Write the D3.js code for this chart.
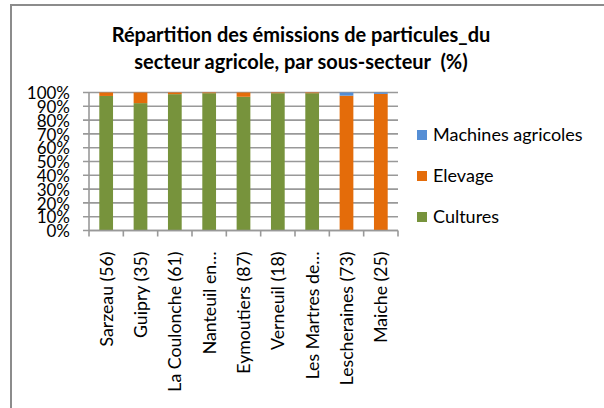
<!DOCTYPE html>
<html>
<head>
<meta charset="utf-8">
<script src="https://cdn.jsdelivr.net/npm/d3@7"></script>
<style>
  body { margin: 0; background: #fff; }
  .chart text { font-family: Lato, "Open Sans", sans-serif; fill: #000; }
</style>
</head>
<body>
<svg class="chart" width="604" height="408"></svg>
<script>
// data
var categories = ["Sarzeau (56)", "Guipry (35)", "La Coulonche (61)", "Nanteuil en…",
    "Eymoutiers (87)", "Verneuil (18)", "Les Martres de…", "Lescheraines (73)", "Maiche (25)"];
var cultures = [97.5, 92.3, 98.8, 99.5, 96.9, 99.5, 99.5, 0.3, 0];
var elevage = [2.5, 7.7, 1.2, 0.5, 3.1, 0.5, 0.5, 97.4, 99];
var machines = [0, 0, 0, 0, 0, 0, 0, 2.3, 1];
var seriesNames = ["Cultures", "Elevage", "Machines agricoles"];
var seriesColors = ["#77933C", "#E46C0A", "#558ED5"];
var yTicks = [0, 10, 20, 30, 40, 50, 60, 70, 80, 90, 100];
var titleLines = ["Répartition des émissions de particules_du", "secteur agricole, par sous-secteur  (%)"];

var canvasWidth = 604;
var canvasHeight = 408;
var plotLeft = 89, plotRight = 398, plotTop = 92.5, plotBottom = 230.5;

var svg = d3.select(".chart");

// frame of the chart area (only top and left edges visible)
svg.append("path")
    .attr("d", "M11," + canvasHeight + "V5H" + canvasWidth)
    .attr("fill", "none")
    .attr("stroke", "#8c8c8c")
    .attr("stroke-width", 2);

// title
svg.append("text")
    .attr("x", 301)
    .attr("y", 42)
    .attr("text-anchor", "middle")
    .style("font-size", "20px")
    .style("font-weight", "bold")
    .selectAll("tspan")
    .data(titleLines)
    .enter().append("tspan")
    .attr("x", 301)
    .attr("dy", function (d, i) { return i === 0 ? 0 : 26.5; })
    .style("white-space", "pre")
    .text(function (d) { return d; });

var rows = categories.map(function (c, i) {
    return { cat: c, Cultures: cultures[i], Elevage: elevage[i], "Machines agricoles": machines[i] };
});
var stacked = d3.stack().keys(seriesNames)(rows);

var x = d3.scaleBand()
    .domain(categories)
    .range([plotLeft, plotRight])
    .paddingInner(0.6)
    .paddingOuter(0.3);

var y = d3.scaleLinear()
    .domain([0, 100])
    .range([plotBottom, plotTop]);

// gridlines
svg.append("g")
    .selectAll("line")
    .data(yTicks)
    .enter().append("line")
    .attr("x1", plotLeft - 6)
    .attr("x2", plotRight)
    .attr("y1", function (d) { return y(d); })
    .attr("y2", function (d) { return y(d); })
    .attr("stroke", "#999")
    .attr("stroke-width", 1.6);

// y axis labels
var yAxis = d3.axisLeft(y)
    .tickValues(yTicks)
    .tickSize(0)
    .tickPadding(19)
    .tickFormat(function (d) { return d + "%"; });

var yAxisGroup = svg.append("g")
    .attr("transform", "translate(" + plotLeft + ",0)")
    .call(yAxis);
yAxisGroup.select(".domain").remove();
yAxisGroup.selectAll("text")
    .style("font-size", "17px")
    .attr("dy", "0.36em");

// bars
svg.append("g")
    .selectAll("g")
    .data(stacked)
    .enter().append("g")
    .attr("fill", function (d, i) { return seriesColors[i]; })
    .selectAll("rect")
    .data(function (d) { return d; })
    .enter().append("rect")
    .attr("x", function (d) { return x(d.data.cat); })
    .attr("width", x.bandwidth())
    .attr("y", function (d) { return y(d[1]); })
    .attr("height", function (d) { return y(d[0]) - y(d[1]); });

// axes lines
svg.append("line")
    .attr("x1", plotLeft).attr("x2", plotLeft)
    .attr("y1", plotTop).attr("y2", plotBottom)
    .attr("stroke", "#999").attr("stroke-width", 1.6);

var step = (plotRight - plotLeft) / categories.length;
var xTickPos = d3.range(categories.length + 1).map(function (i) { return plotLeft + i * step; });

svg.append("line")
    .attr("x1", plotLeft).attr("x2", plotRight)
    .attr("y1", plotBottom).attr("y2", plotBottom)
    .attr("stroke", "#999").attr("stroke-width", 1.6);

svg.append("g")
    .selectAll("line")
    .data(xTickPos)
    .enter().append("line")
    .attr("x1", function (d) { return d; })
    .attr("x2", function (d) { return d; })
    .attr("y1", plotBottom)
    .attr("y2", plotBottom + 6)
    .attr("stroke", "#999")
    .attr("stroke-width", 1.6);

// category labels, rotated
svg.append("g")
    .selectAll("text")
    .data(categories)
    .enter().append("text")
    .attr("transform", function (d) {
        return "translate(" + (x(d) + x.bandwidth() / 2) + "," + (plotBottom + 21) + ") rotate(-90)";
    })
    .attr("text-anchor", "end")
    .attr("dy", "0.36em")
    .style("font-size", "17.7px")
    .text(function (d) { return d; });

// legend
var legendNames = seriesNames.slice().reverse();
var legendColors = seriesColors.slice().reverse();
var legend = svg.append("g")
    .selectAll("g")
    .data(legendNames)
    .enter().append("g")
    .attr("transform", function (d, i) { return "translate(417," + (135 + i * 41) + ")"; });

legend.append("rect")
    .attr("x", 0)
    .attr("y", -5)
    .attr("width", 10)
    .attr("height", 10)
    .attr("fill", function (d, i) { return legendColors[i]; });

legend.append("text")
    .attr("x", 16)
    .attr("dy", "0.36em")
    .style("font-size", "18px")
    .text(function (d) { return d; });
</script>
</body>
</html>
